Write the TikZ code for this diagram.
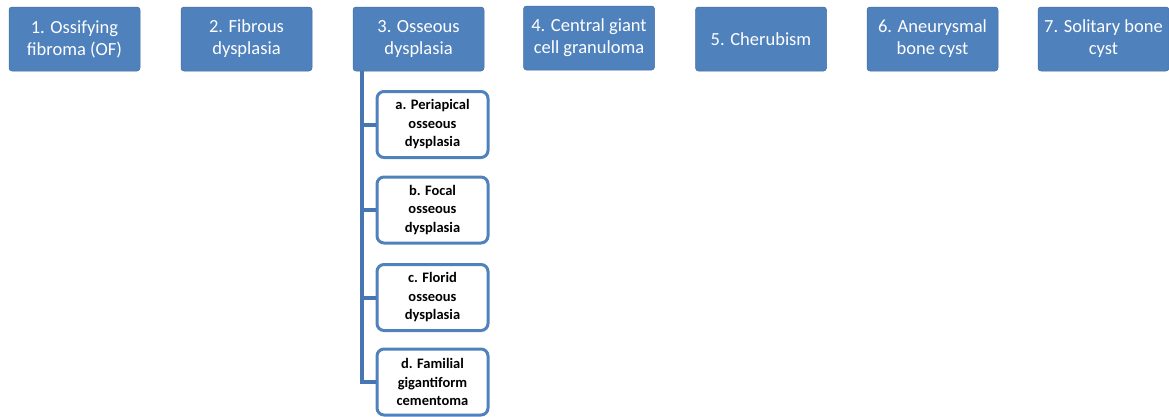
\documentclass[tikz,border=0pt]{standalone}
\usepackage{fontspec}
\setmainfont{Carlito}
\usepackage{xcolor}
\definecolor{boxblue}{RGB}{79,129,189}
\definecolor{lineblue}{RGB}{72,118,178}

\tikzset{
  topbox/.style={fill=boxblue, draw=boxblue!85!black, line width=0.5pt, rounded corners=3pt,
    text=white, align=center, minimum width=131pt, minimum height=64pt, inner sep=0pt,
    font=\fontsize{18.5}{22}\selectfont},
  subbox/.style={fill=white, draw=boxblue, line width=3pt, rounded corners=7pt,
    align=center, minimum width=111pt, minimum height=66pt, inner sep=0pt,
    font=\bfseries\fontsize{14.5}{18.5}\selectfont},
  link/.style={draw=lineblue, line width=4pt}
}

\begin{document}
\begin{tikzpicture}[x=1pt,y=1pt,yscale=-1]
        \useasboundingbox (0,0) rectangle (1169,416);

        % top row
        \node[topbox] (ossif) at (74.5,39) {1. Ossifying\\fibroma (OF)};
        \node[topbox] (fibrous) at (246.5,39) {2. Fibrous\\dysplasia};
        \node[topbox] (osseous) at (418.5,39) {3. Osseous\\dysplasia};
        \node[topbox] (cgcg) at (589,38) {4. Central giant\\cell granuloma};
        \node[topbox] (cherub) at (761,39) {5. Cherubism};
        \node[topbox] (abc) at (932.5,39) {6. Aneurysmal\\bone cyst};
        \node[topbox] (sbc) at (1103.5,39) {7. Solitary bone\\cyst};

        % sub types of osseous dysplasia
        \node[subbox] (periap) at (432.5,124.5) {a. Periapical\\osseous\\dysplasia};
        \node[subbox] (focal) at (432.5,210) {b. Focal\\osseous\\dysplasia};
        \node[subbox] (florid) at (432.5,297.5) {c. Florid\\osseous\\dysplasia};
        \node[subbox] (famil) at (432.5,382) {d. Familial\\gigantiform\\cementoma};

        % trunk from box 3
        \coordinate (trunk) at ([xshift=-56.5pt]osseous.south);
        \draw[link] (trunk) |- (periap.west);
        \draw[link] (trunk) |- (focal.west);
        \draw[link] (trunk) |- (florid.west);
        \draw[link] (trunk) |- (famil.west);

\end{tikzpicture}
\end{document}
